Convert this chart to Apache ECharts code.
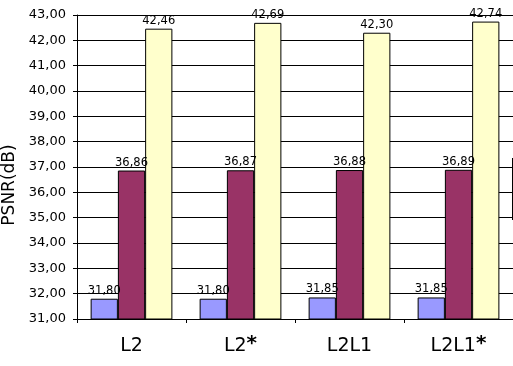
<!DOCTYPE html>
<html>
<head>
<meta charset="utf-8">
<script src="https://cdn.jsdelivr.net/npm/echarts@6/dist/echarts.min.js"></script>
<style>
  html, body { margin: 0; padding: 0; background: #fff; }
  #chart { width: 513px; height: 366px; }
</style>
</head>
<body>
<div id="chart"></div>
<script>
var categorias = ['L2', 'L2*', 'L2L1', 'L2L1*'];
var serieAzul = [31.80, 31.80, 31.85, 31.85];
var serieMorada = [36.86, 36.87, 36.88, 36.89];
var serieAmarilla = [42.46, 42.69, 42.30, 42.74];
var ejeY = { min: 31, max: 43, paso: 1 };

function coma(v) {
    return v.toFixed(2).replace('.', ',');
}

// el asterisco va en negrita y un poco elevado, como en la figura original
function etiquetaX(v) {
    if (v.slice(-1) === '*') {
        return '{b|' + v.slice(0, -1) + '}{s|*}';
    }
    return '{b|' + v + '}';
}

function serie(nombre, datos, color) {
    return {
        name: nombre,
        type: 'bar',
        data: datos,
        barGap: '0%',
        barCategoryGap: '25%',
        itemStyle: { color: color, borderColor: '#000', borderWidth: 1 },
        label: {
            show: true,
            position: 'top',
            distance: 2,
            color: '#000',
            fontFamily: 'DejaVu Sans',
            fontSize: 11.5,
            formatter: function(p) { return coma(p.value); }
        }
    };
}

var chart = echarts.init(document.getElementById('chart'));
chart.setOption({
    animation: false,
    grid: { left: 77, top: 15, right: 0, bottom: 47, containLabel: false, outerBoundsMode: 'none' },
    xAxis: {
        type: 'category',
        data: categorias,
        axisLine: { lineStyle: { color: '#000' } },
        axisTick: { show: true, length: 4, lineStyle: { color: '#000' } },
        axisLabel: {
            interval: 0,
            hideOverlap: false,
            margin: 15,
            color: '#000',
            formatter: etiquetaX,
            rich: {
                b: { fontFamily: 'DejaVu Sans', fontSize: 19, lineHeight: 24, color: '#000' },
                s: { fontFamily: 'DejaVu Sans', fontSize: 20, lineHeight: 16, fontWeight: 'bold', verticalAlign: 'top', color: '#000' }
            }
        }
    },
    yAxis: {
        type: 'value',
        min: ejeY.min,
        max: ejeY.max,
        interval: ejeY.paso,
        name: 'PSNR(dB)',
        nameLocation: 'middle',
        nameGap: 58,
        nameTextStyle: { color: '#000', fontFamily: 'DejaVu Sans', fontSize: 17, padding: [0, 36, 0, 0] },
        axisLine: { show: true, lineStyle: { color: '#000' } },
        axisTick: { show: true, length: 4, lineStyle: { color: '#000' } },
        axisLabel: {
            margin: 11,
            color: '#000',
            fontFamily: 'DejaVu Sans',
            fontSize: 13,
            formatter: function(v) { return coma(v); }
        },
        splitLine: { lineStyle: { color: '#000', width: 1 } }
    },
    graphic: [{
        // borde izquierdo de la leyenda, cortada en el original
        type: 'line',
        shape: { x1: 512.5, y1: 158, x2: 512.5, y2: 220 },
        style: { stroke: '#000', lineWidth: 1 }
    }],
    series: [
        serie('A', serieAzul, '#9999ff'),
        serie('B', serieMorada, '#993366'),
        serie('C', serieAmarilla, '#ffffcc')
    ]
});
</script>
</body>
</html>
